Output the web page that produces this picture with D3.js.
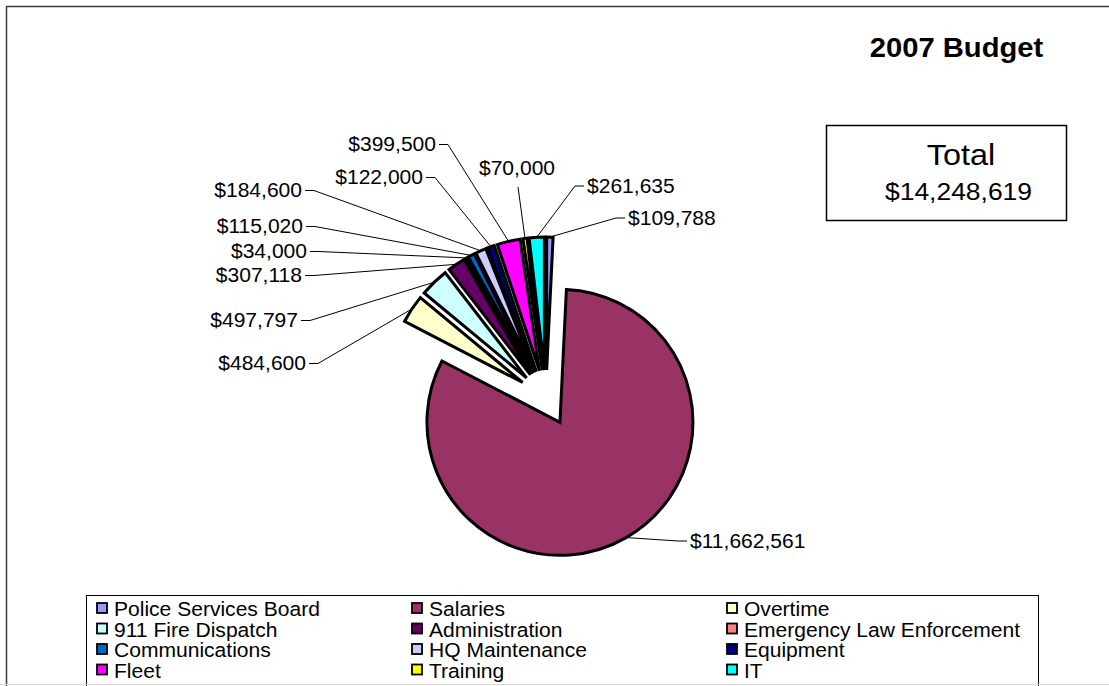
<!DOCTYPE html>
<html>
<head>
<meta charset="utf-8">
<script src="https://cdn.jsdelivr.net/npm/d3@7"></script>
<style>
  html, body { margin: 0; padding: 0; background: #fff; }
  svg { display: block; }
  text { font-family: "Liberation Sans", Arial, sans-serif; fill: #000; }
</style>
</head>
<body>
<svg id="chart" width="1109" height="686"></svg>
<script>
// Budget lines, in legend order (also the clockwise slice order from 12 o'clock)
const categories = [
  "Police Services Board", "Salaries", "Overtime",
  "911 Fire Dispatch", "Administration", "Emergency Law Enforcement",
  "Communications", "HQ Maintenance", "Equipment",
  "Fleet", "Training", "IT"
];
const amounts = [
  109788, 11662561, 484600,
  497797, 307118, 34000,
  115020, 184600, 122000,
  399500, 70000, 261635
];
const sliceColors = [
  "#9999FF", "#993366", "#FFFFCC",
  "#CCFFFF", "#660066", "#FF8080",
  "#0066CC", "#CCCCFF", "#000080",
  "#FF00FF", "#FFFF00", "#00FFFF"
];
const chartTitle = "2007 Budget";
const totalCaption = "Total";

// Where each value label sits (text baseline point) and which side its leader leaves from
const labelPlacement = [
  { x: 628, y: 225, side: "right" },
  { x: 690, y: 548, side: "right" },
  { x: 306, y: 370, side: "left" },
  { x: 298, y: 327, side: "left" },
  { x: 302, y: 282, side: "left" },
  { x: 307, y: 258, side: "left" },
  { x: 303, y: 233, side: "left" },
  { x: 302, y: 197, side: "left" },
  { x: 423, y: 184, side: "left" },
  { x: 436, y: 151, side: "left" },
  { x: 517, y: 175, side: "top" },
  { x: 587, y: 193, side: "right" }
];

const W = 1109, H = 686;
const svg = d3.select("#chart");
const money = v => "$" + d3.format(",")(v);
const TEXT_STRETCH = 1.08;

// Text helper: places text at (x, y) with the slightly wide glyph proportions
function addText(parent, x, y, str, size, anchor, weight) {
  return parent.append("text")
    .attr("transform", `translate(${x},${y}) scale(${TEXT_STRETCH},1)`)
    .attr("text-anchor", anchor || "start")
    .style("font-size", size + "px")
    .style("font-weight", weight || "normal")
    .text(str);
}

// Chart area frame
svg.append("rect")
  .attr("x", 6.5).attr("y", 6.5)
  .attr("width", W + 20).attr("height", H + 20)
  .attr("fill", "#fff")
  .attr("stroke", "#3a3a3a").attr("stroke-width", 1.5);

// Title
addText(svg, 956.5, 57, chartTitle, 27, "middle", "bold");

// Total box
const total = d3.sum(amounts);
svg.append("rect")
  .attr("x", 826.5).attr("y", 125.5)
  .attr("width", 240).attr("height", 95)
  .attr("fill", "#fff").attr("stroke", "#000").attr("stroke-width", 1.5);
addText(svg, 961, 165, totalCaption, 30, "middle");
addText(svg, 958.5, 200, money(total), 24.5, "middle");

// Pie
const cx = 546, cy = 398, radius = 133, explode = 28;
const pie = d3.pie().sort(null).value(d => d.value)
  .startAngle(0).endAngle(2 * Math.PI);
const data = categories.map((c, i) => ({ name: c, value: amounts[i], color: sliceColors[i], i }));
const arcs = pie(data);
const arc = d3.arc().innerRadius(0).outerRadius(radius);
const edgeArc = d3.arc().innerRadius(radius).outerRadius(radius);

const pieG = svg.append("g").attr("transform", `translate(${cx},${cy})`);

function shift(a) {
  const mid = (a.startAngle + a.endAngle) / 2;
  return [explode * Math.sin(mid), -explode * Math.cos(mid)];
}

pieG.selectAll("path.slice")
  .data(arcs)
  .join("path")
  .attr("class", "slice")
  .attr("transform", d => { const s = shift(d); return `translate(${s[0]},${s[1]})`; })
  .attr("d", arc)
  .attr("fill", d => d.data.color)
  .attr("stroke", "#000")
  .attr("stroke-width", 3)
  .attr("stroke-linejoin", "miter");

// Leader lines and value labels
const labelG = svg.append("g");
arcs.forEach((a, i) => {
  const s = shift(a);
  const c = edgeArc.centroid(a);
  const p0 = [cx + c[0] + s[0], cy + c[1] + s[1]];
  const L = labelPlacement[i];
  let pts;
  if (L.side === "left") {
    pts = [p0, [L.x + 12, L.y - 6.5], [L.x + 3, L.y - 6.5]];
  } else if (L.side === "right") {
    pts = [p0, [L.x - 12, L.y - 7], [L.x - 3, L.y - 7]];
  } else {
    pts = [p0, [L.x + 1, L.y + 12]];
  }
  labelG.append("path")
    .attr("d", d3.line()(pts))
    .attr("fill", "none")
    .attr("stroke", "#000")
    .attr("stroke-width", 1);
  const anchor = L.side === "left" ? "end" : (L.side === "right" ? "start" : "middle");
  addText(labelG, L.x, L.y, money(a.data.value), 19.5, anchor);
});

// Legend
const legendG = svg.append("g");
legendG.append("rect")
  .attr("x", 86.5).attr("y", 595.5)
  .attr("width", 952).attr("height", 120)
  .attr("fill", "#fff").attr("stroke", "#000").attr("stroke-width", 1);

const colStep = 315, rowStep = 20.5;
categories.forEach((name, i) => {
  const col = i % 3, row = Math.floor(i / 3);
  const sx = 97 + col * colStep, sy = 603 + row * rowStep;
  legendG.append("rect")
    .attr("x", sx).attr("y", sy)
    .attr("width", 10).attr("height", 10)
    .attr("fill", sliceColors[i])
    .attr("stroke", "#000").attr("stroke-width", 1.8);
  addText(legendG, sx + 17, 616 + row * rowStep, name, 19.5, "start");
});

// Faint bottom edge line
svg.append("line")
  .attr("x1", 0).attr("x2", W)
  .attr("y1", 684.5).attr("y2", 684.5)
  .attr("stroke", "#d6d6d6").attr("stroke-width", 1);
</script>
</body>
</html>
